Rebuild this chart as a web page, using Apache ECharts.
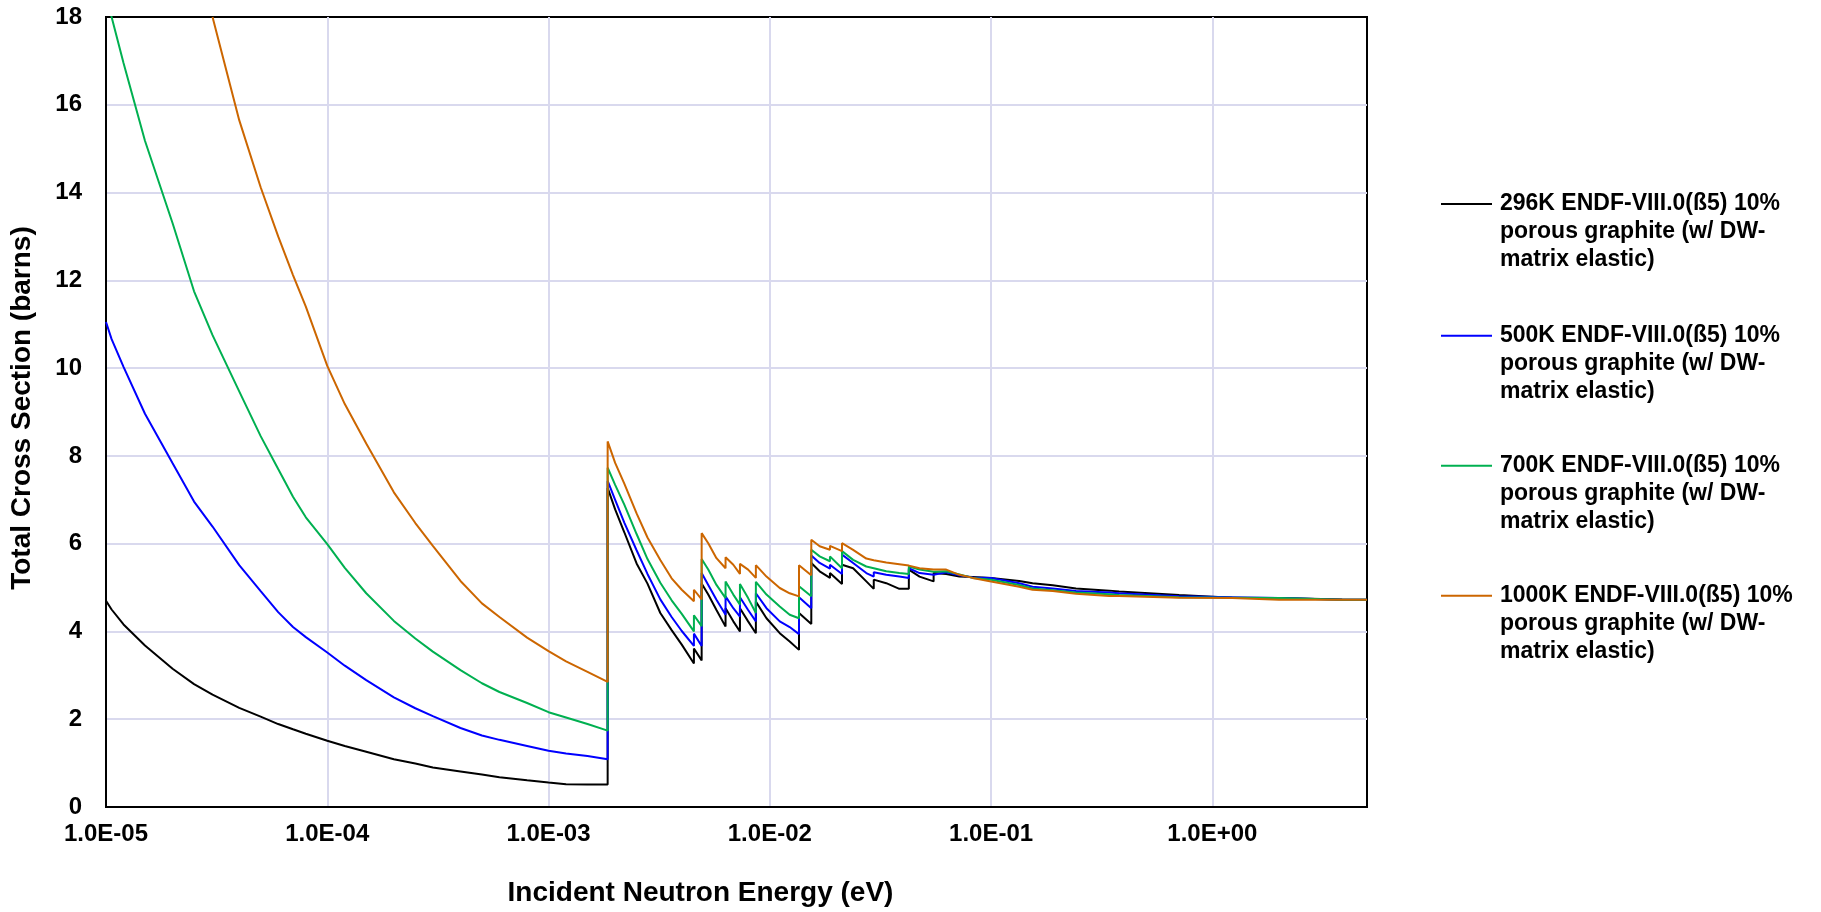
<!DOCTYPE html>
<html>
<head>
<meta charset="utf-8">
<script src="https://cdn.jsdelivr.net/npm/echarts@6/dist/echarts.min.js"></script>
<style>
  html, body { margin: 0; padding: 0; background: #ffffff; }
  #chart { width: 1821px; height: 912px; }
</style>
</head>
<body>
<div id="chart"></div>
<script>
// Incident neutron energy (eV); repeated values mark vertical Bragg-edge jumps
const energy = [
  1e-5, 1.06e-5, 1.2e-5, 1.5e-5, 2e-5, 2.5e-5, 3.03e-5, 4e-5, 5e-5, 6e-5, 7e-5, 8e-5,
  1e-4, 1.2e-4, 1.5e-4, 2e-4, 2.5e-4, 3e-4, 4e-4, 5e-4, 6e-4, 8e-4,
  1e-3, 1.2e-3, 1.5e-3, 1.85e-3,
  1.85e-3, 2.0e-3, 2.2e-3, 2.5e-3, 2.8e-3, 3.2e-3, 3.6e-3, 4.0e-3, 4.54e-3,
  4.54e-3, 4.92e-3,
  4.92e-3, 5.27e-3, 5.74e-3, 6.31e-3,
  6.31e-3, 6.84e-3, 7.33e-3,
  7.33e-3, 7.98e-3, 8.65e-3,
  8.65e-3, 9.66e-3, 1.109e-2, 1.23e-2, 1.355e-2,
  1.355e-2, 1.54e-2,
  1.54e-2, 1.68e-2, 1.87e-2,
  1.87e-2, 2.12e-2,
  2.12e-2, 2.38e-2, 2.73e-2, 2.95e-2,
  2.95e-2, 3.36e-2, 3.85e-2, 4.25e-2,
  4.25e-2, 4.75e-2, 5.5e-2,
  5.5e-2, 6.27e-2, 7.19e-2, 8.26e-2, 0.1, 0.134, 0.154, 0.19, 0.242, 0.342, 0.379,
  0.708, 1.23, 2.0, 3.86, 5.0
];

// Total cross section (barns)
const xs296K = [
  4.70, 4.50, 4.16, 3.68, 3.15, 2.80, 2.56, 2.26, 2.06, 1.89, 1.77, 1.67,
  1.51, 1.39, 1.26, 1.09, 0.99, 0.90, 0.81, 0.74, 0.68, 0.61,
  0.56, 0.52, 0.51, 0.51,
  7.27, 6.78, 6.26, 5.55, 5.09, 4.42, 4.03, 3.70, 3.27,
  3.61, 3.34,
  5.09, 4.84, 4.49, 4.11,
  4.53, 4.23, 4.00,
  4.53, 4.23, 3.96,
  4.68, 4.30, 3.96, 3.77, 3.58,
  4.42, 4.17,
  5.56, 5.37, 5.22,
  5.33, 5.08,
  5.52, 5.44, 5.14, 4.97,
  5.18, 5.10, 4.97, 4.97,
  5.41, 5.25, 5.14,
  5.33, 5.31, 5.25, 5.24, 5.22, 5.15, 5.10, 5.05, 4.98, 4.93, 4.91,
  4.83, 4.77, 4.76, 4.73, 4.72
];

const xs500K = [
  11.05, 10.66, 10.03, 8.96, 7.83, 6.96, 6.39, 5.51, 4.92, 4.44, 4.10, 3.87,
  3.52, 3.22, 2.89, 2.50, 2.25, 2.07, 1.80, 1.63, 1.53, 1.39,
  1.28, 1.22, 1.16, 1.09,
  7.43, 7.00, 6.48, 5.85, 5.31, 4.73, 4.33, 4.01, 3.67,
  3.95, 3.67,
  5.33, 5.06, 4.72, 4.38,
  4.80, 4.53, 4.34,
  4.78, 4.49, 4.23,
  4.87, 4.53, 4.23, 4.10, 3.94,
  4.78, 4.53,
  5.73, 5.56, 5.43,
  5.52, 5.31,
  5.75, 5.56, 5.33, 5.25,
  5.35, 5.29, 5.25, 5.22,
  5.44, 5.33, 5.29,
  5.29, 5.35, 5.28, 5.23, 5.22, 5.10, 5.02, 4.98, 4.92, 4.89, 4.87,
  4.80, 4.78, 4.76, 4.72, 4.72
];

const xs700K = [
  18.45, 18.0, 16.95, 15.18, 13.30, 11.75, 10.75, 9.47, 8.45, 7.70, 7.07, 6.60,
  5.99, 5.45, 4.87, 4.24, 3.84, 3.54, 3.12, 2.82, 2.62, 2.37,
  2.16, 2.04, 1.89, 1.74,
  7.73, 7.34, 6.89, 6.22, 5.65, 5.11, 4.71, 4.40, 4.00,
  4.37, 4.12,
  5.65, 5.41, 5.06, 4.76,
  5.14, 4.84, 4.61,
  5.08, 4.76, 4.42,
  5.13, 4.84, 4.57, 4.38, 4.30,
  5.03, 4.80,
  5.86, 5.71, 5.60,
  5.71, 5.44,
  5.83, 5.63, 5.48, 5.44,
  5.44, 5.37, 5.33, 5.31,
  5.48, 5.41, 5.36,
  5.36, 5.37, 5.30, 5.22, 5.18, 5.06, 4.98, 4.94, 4.89, 4.85, 4.83,
  4.78, 4.77, 4.76, 4.72, 4.72
];

const xs1000K = [
  null, null, null, null, null, null, 18.0, 15.65, 14.12, 13.0, 12.12, 11.40,
  10.05, 9.18, 8.28, 7.17, 6.47, 5.95, 5.15, 4.64, 4.33, 3.86,
  3.55, 3.32, 3.08, 2.85,
  8.33, 7.84, 7.37, 6.69, 6.14, 5.63, 5.21, 4.95, 4.69,
  4.95, 4.73,
  6.24, 6.01, 5.67, 5.44,
  5.69, 5.52, 5.31,
  5.54, 5.41, 5.22,
  5.51, 5.25, 4.99, 4.87, 4.80,
  5.51, 5.28,
  6.09, 5.94, 5.86,
  5.95, 5.83,
  6.01, 5.86, 5.66, 5.62,
  5.62, 5.57, 5.53, 5.50,
  5.50, 5.44, 5.41,
  5.41, 5.41, 5.29, 5.22, 5.14, 5.02, 4.95, 4.92, 4.86, 4.81, 4.81,
  4.77, 4.76, 4.72, 4.72, 4.72
];

const seriesNames = [
  '296K ENDF-VIII.0(ß5) 10%\nporous graphite (w/ DW-\nmatrix elastic)',
  '500K ENDF-VIII.0(ß5) 10%\nporous graphite (w/ DW-\nmatrix elastic)',
  '700K ENDF-VIII.0(ß5) 10%\nporous graphite (w/ DW-\nmatrix elastic)',
  '1000K ENDF-VIII.0(ß5) 10%\nporous graphite (w/ DW-\nmatrix elastic)'
];
const seriesValues = [xs296K, xs500K, xs700K, xs1000K];
const seriesColors = ['#000000', '#0000ff', '#00b050', '#cc6600'];

const xTitle = 'Incident Neutron Energy (eV)';
const yTitle = 'Total Cross Section (barns)';

const FONT = '"Liberation Sans", Arial, sans-serif';

function pairs(vals) {
  const out = [];
  for (let i = 0; i < energy.length; i++) {
    if (vals[i] !== null && vals[i] !== undefined) out.push([energy[i], vals[i]]);
  }
  return out;
}

function expLabel(v) {
  const l = Math.log10(v);
  const e = Math.round(l);
  if (Math.abs(l - e) > 1e-6) return '';
  const s = String(Math.abs(e)).padStart(2, '0');
  return '1.0E' + (e < 0 ? '-' : '+') + s;
}

const chart = echarts.init(document.getElementById('chart'), null, { renderer: 'canvas' });

const LH = 28;
const legendMids = [204, 335.7, 465.7, 595.7];
const legends = seriesNames.map((n, i) => ({
  data: [n],
  left: 1441,
  top: legendMids[i] - 2.5 * LH,
  orient: 'vertical',
  padding: 0,
  itemWidth: 51,
  itemHeight: 14,
  icon: 'path://M0,0L51,0L51,2L0,2Z',
  selectedMode: false,
  formatter: function (name) { return '\n\n' + name; },
  textStyle: {
    fontFamily: FONT,
    fontWeight: 'bold',
    fontSize: 23,
    lineHeight: LH,
    color: '#000',
    padding: [0, 0, 0, 3]
  }
}));

const option = {
  backgroundColor: '#ffffff',
  animation: false,
  grid: {
    left: 106, top: 17, right: 454, bottom: 102,
    show: true, borderColor: '#000', borderWidth: 2, backgroundColor: 'transparent'
  },
  legend: legends,
  xAxis: {
    type: 'log',
    logBase: 10,
    min: 1e-5,
    max: 5,
    name: xTitle,
    nameLocation: 'middle',
    nameGap: 72,
    nameTextStyle: {
      fontFamily: FONT, fontWeight: 'bold', fontSize: 28, color: '#000',
      padding: [0, 72, 0, 0]
    },
    axisLine: { show: true, lineStyle: { color: '#000', width: 2 } },
    axisTick: { show: false },
    axisLabel: {
      formatter: expLabel,
      fontFamily: FONT, fontWeight: 'bold', fontSize: 24, color: '#000', margin: 15,
      showMaxLabel: false
    },
    splitLine: { show: true, showMinLine: false, showMaxLine: false, lineStyle: { color: '#d9d9ee', width: 2 } }
  },
  yAxis: {
    type: 'value',
    min: 0,
    max: 18,
    interval: 2,
    name: yTitle,
    nameLocation: 'middle',
    nameRotate: 90,
    nameGap: 70,
    nameTextStyle: {
      fontFamily: FONT, fontWeight: 'bold', fontSize: 28, color: '#000',
      padding: [0, 0, 0, 8]
    },
    axisLine: { show: true, lineStyle: { color: '#000', width: 2 } },
    axisTick: { show: false },
    axisLabel: { fontFamily: FONT, fontWeight: 'bold', fontSize: 24, color: '#000', margin: 24 },
    splitLine: { show: true, showMinLine: false, showMaxLine: false, lineStyle: { color: '#d9d9ee', width: 2 } }
  },
  series: seriesNames.map((n, i) => ({
    name: n,
    type: 'line',
    data: pairs(seriesValues[i]),
    symbol: 'none',
    clip: true,
    lineStyle: { color: seriesColors[i], width: 2 },
    itemStyle: { color: seriesColors[i] },
    z: 2 + i
  }))
};

chart.setOption(option);
</script>
</body>
</html>
